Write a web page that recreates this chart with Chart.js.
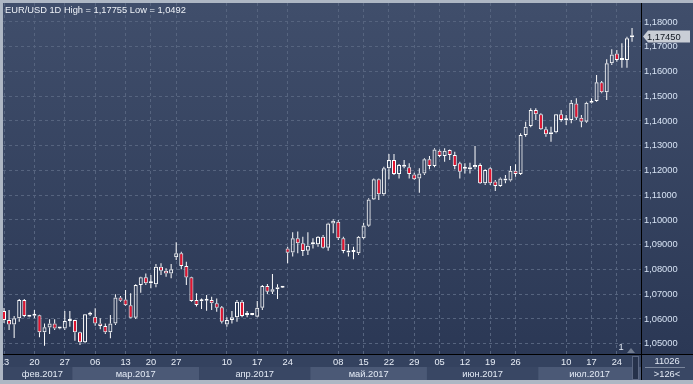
<!DOCTYPE html>
<html><head><meta charset="utf-8">
<script src="https://cdn.jsdelivr.net/npm/chart.js@4.4.0/dist/chart.umd.min.js"></script>
<style>html,body{margin:0;padding:0;background:#aeb7c4;overflow:hidden}#wrap{width:693px;height:384px}</style>
</head><body><div id="wrap"><canvas id="c" width="693" height="384"></canvas></div>
<script>
// ---- DATA (EUR/USD daily candles) ----
const titleText = 'EUR/USD 1D High = 1,17755 Low = 1,0492';
const opens = [1.0632,1.0596,1.0578,1.0603,1.0677,1.0609,1.0613,1.0615,1.0546,1.0565,1.0582,1.0561,1.0561,1.0592,1.0596,1.0546,1.0506,1.0617,1.0609,1.0582,1.0572,1.0546,1.0582,1.0687,1.0679,1.0655,1.0605,1.0737,1.0768,1.0744,1.0740,1.0811,1.0795,1.0784,1.0849,1.0865,1.0814,1.0768,1.0677,1.0672,1.0674,1.0677,1.0663,1.0647,1.0578,1.0596,1.0607,1.0670,1.0616,1.0616,1.0609,1.0645,1.0733,1.0710,1.0720,1.0726,1.0885,1.0869,1.0926,1.0906,1.0876,1.0902,1.0902,1.0932,1.0888,1.0986,1.0993,1.0926,1.0876,1.0871,1.0865,1.0926,1.0977,1.1083,1.1164,1.1104,1.1209,1.1242,1.1186,1.1222,1.1213,1.1184,1.1168,1.1188,1.1245,1.1218,1.1280,1.1258,1.1283,1.1262,1.1229,1.1207,1.1205,1.1213,1.1222,1.1148,1.1209,1.1155,1.1137,1.1168,1.1159,1.1199,1.1186,1.1343,1.1380,1.1444,1.1427,1.1366,1.1346,1.1354,1.1427,1.1403,1.1404,1.1471,1.1413,1.1397,1.1474,1.1481,1.1556,1.1516,1.1633,1.1673,1.1646,1.1646,1.1738];
const highs = [1.0644,1.0636,1.0612,1.0681,1.0681,1.0616,1.0636,1.0617,1.0582,1.0599,1.0599,1.0564,1.0632,1.0632,1.0597,1.0548,1.0620,1.0629,1.0643,1.0603,1.0582,1.0616,1.0700,1.0693,1.0717,1.0704,1.0740,1.0771,1.0784,1.0778,1.0822,1.0825,1.0805,1.0822,1.0910,1.0872,1.0831,1.0771,1.0704,1.0683,1.0697,1.0690,1.0683,1.0652,1.0607,1.0632,1.0677,1.0677,1.0632,1.0618,1.0673,1.0737,1.0741,1.0782,1.0740,1.0728,1.0892,1.0950,1.0953,1.0932,1.0950,1.0926,1.0935,1.0939,1.0989,1.1003,1.1000,1.0932,1.0903,1.0892,1.0935,1.0989,1.1088,1.1168,1.1168,1.1215,1.1266,1.1266,1.1226,1.1242,1.1229,1.1191,1.1209,1.1249,1.1258,1.1290,1.1285,1.1290,1.1285,1.1276,1.1235,1.1229,1.1231,1.1299,1.1229,1.1205,1.1213,1.1161,1.1172,1.1182,1.1218,1.1225,1.1350,1.1397,1.1451,1.1451,1.1431,1.1377,1.1377,1.1428,1.1444,1.1424,1.1485,1.1492,1.1424,1.1478,1.1492,1.1586,1.1561,1.1649,1.1690,1.1687,1.1714,1.1740,1.17755];
const lows = [1.0584,1.0555,1.0523,1.0589,1.0607,1.0607,1.0603,1.0526,1.0492,1.0539,1.0555,1.0558,1.0555,1.0569,1.0512,1.0495,1.0502,1.0612,1.0573,1.0558,1.0539,1.0522,1.0576,1.0670,1.0652,1.0603,1.0600,1.0706,1.0737,1.0724,1.0728,1.0778,1.0771,1.0764,1.0838,1.0801,1.0737,1.0670,1.0650,1.0640,1.0633,1.0636,1.0629,1.0582,1.0569,1.0582,1.0589,1.0607,1.0607,1.0615,1.0607,1.0636,1.0701,1.0701,1.0681,1.0725,1.0825,1.0852,1.0865,1.0854,1.0858,1.0885,1.0892,1.0885,1.0876,1.0946,1.0919,1.0865,1.0852,1.0841,1.0858,1.0922,1.0973,1.1081,1.1081,1.1098,1.1164,1.1182,1.1168,1.1209,1.1168,1.1161,1.1110,1.1182,1.1205,1.1213,1.1253,1.1235,1.1242,1.1205,1.1168,1.1188,1.1188,1.1205,1.1145,1.1141,1.1141,1.1117,1.1134,1.1148,1.1155,1.1175,1.1182,1.1336,1.1375,1.1404,1.1363,1.1336,1.1316,1.1350,1.1397,1.1384,1.1391,1.1404,1.1375,1.1393,1.1471,1.1478,1.1512,1.1485,1.1626,1.1639,1.1615,1.1615,1.1720];
const closes = [1.0596,1.0578,1.0603,1.0677,1.0612,1.0613,1.0619,1.0546,1.0566,1.0582,1.0561,1.0562,1.0592,1.0596,1.0546,1.0506,1.0619,1.0623,1.0582,1.0572,1.0546,1.0582,1.0687,1.0674,1.0655,1.0605,1.0737,1.0768,1.0744,1.0745,1.0811,1.0795,1.0784,1.0801,1.0865,1.0814,1.0768,1.0673,1.0656,1.0673,1.0675,1.0663,1.0645,1.0589,1.0596,1.0607,1.0670,1.0612,1.0617,1.0617,1.0645,1.0733,1.0710,1.0720,1.0728,1.0727,1.0868,1.0926,1.0906,1.0875,1.0896,1.0903,1.0932,1.0888,1.0986,1.0997,1.0926,1.0875,1.0869,1.0872,1.0932,1.0978,1.1083,1.1164,1.1104,1.1209,1.1242,1.1186,1.1222,1.1215,1.1186,1.1164,1.1188,1.1245,1.1218,1.1285,1.1258,1.1280,1.1262,1.1218,1.1195,1.1208,1.1213,1.1222,1.1148,1.1202,1.1148,1.1137,1.1168,1.1159,1.1199,1.1186,1.1343,1.1377,1.1444,1.1427,1.1366,1.1346,1.1354,1.1427,1.1404,1.1404,1.1474,1.1413,1.1397,1.1474,1.1481,1.1556,1.1516,1.1633,1.1669,1.1646,1.1650,1.1734,1.1745];
const dayTickIndex  = [0,6,12,18,24,29,34,44,50,56,66,71,76,81,86,91,96,101,111,116,121];
const dayTickLabels = ['13','20','27','06','13','20','27','10','17','24','08','15','22','29','05','12','19','26','10','17','24'];
const monthStartIndex = [0,14,39,61,84,106];
const monthLabels = ['фев.2017','мар.2017','апр.2017','май.2017','июн.2017','июл.2017'];
const priceTicks = [1.05,1.06,1.07,1.08,1.09,1.10,1.11,1.12,1.13,1.14,1.15,1.16,1.17,1.18];
const cornerTop = '11026';
const cornerBottom = '>126<';

// ---- CHART ----
const FONT = "'Liberation Sans', Arial, sans-serif";
Chart.defaults.font.family = FONT;
Chart.defaults.font.size = 9.3;
const RED = '#e5132f';
const idx = closes.map((_, i) => i);
const fmt = v => v.toFixed(5).replace('.', ',');

const frame = {
  id: 'frame',
  beforeDraw(chart) {
    const {ctx, chartArea: ca, scales: {x}} = chart;
    const W = chart.width;
    ctx.save();
    ctx.fillStyle = '#aeb7c4';
    ctx.fillRect(0, 0, W, chart.height);
    const g = ctx.createLinearGradient(0, ca.top, 0, ca.bottom);
    g.addColorStop(0, '#404e6b');
    g.addColorStop(1, '#2b3855');
    ctx.fillStyle = g;
    ctx.fillRect(ca.left, ca.top, W - ca.left, ca.bottom - ca.top);
    const r1 = ca.bottom + 1, r2 = r1 + 12, r3 = r2 + 13;
    ctx.fillStyle = '#34425f';
    ctx.fillRect(ca.left, r1, W - ca.left, r2 - r1);
    ctx.fillStyle = '#394764';
    ctx.fillRect(ca.left, r2, W - ca.left, r3 - r2);
    ctx.fillRect(ca.right, r1, W - ca.right, r3 - r1);
    const edges = monthStartIndex.map((s, k) => k === 0 ? ca.left : x.getPixelForValue(s - 0.5));
    edges.push(ca.right);
    ctx.fillStyle = '#4b5976';
    for (let k = 0; k < monthLabels.length; k++) {
      if (k % 2 === 1) ctx.fillRect(edges[k], r2, edges[k + 1] - edges[k], r3 - r2);
    }
    ctx.restore();
  },
  afterDraw(chart) {
    const {ctx, chartArea: ca, scales: {x, y}} = chart;
    const W = chart.width;
    const r1 = ca.bottom + 1, r2 = r1 + 12, r3 = r2 + 13;
    ctx.save();
    ctx.font = '9.3px ' + FONT;
    const edges = monthStartIndex.map((s, k) => k === 0 ? ca.left : x.getPixelForValue(s - 0.5));
    edges.push(ca.right);
    ctx.fillStyle = '#e3eaf5';
    ctx.textAlign = 'center';
    ctx.textBaseline = 'middle';
    for (let k = 0; k < monthLabels.length; k++) {
      const c = k === 0 ? edges[1] - 30 : (edges[k] + edges[k + 1]) / 2;
      ctx.fillText(monthLabels[k], c, (r2 + r3) / 2 + 0.5);
    }
    // scroll thumb
    ctx.fillStyle = '#26324b';
    ctx.fillRect(ca.right - 9, r1 + 1, 7, r3 - r1 - 1);
    ctx.strokeStyle = '#5b6782';
    ctx.lineWidth = 1;
    ctx.strokeRect(ca.right - 8.5, r1 + 1.5, 6, r3 - r1 - 2);
    // separator lines
    ctx.fillStyle = '#000';
    ctx.fillRect(ca.right, ca.top, 1, r3 - ca.top);
    ctx.fillRect(ca.left, ca.bottom, W - ca.left, 1);
    // title
    ctx.textAlign = 'left';
    ctx.fillStyle = '#eef2f8';
    ctx.fillText(titleText, ca.left + 2, ca.top + 7.5);
    // current price label
    const last = closes[closes.length - 1];
    const py = Math.round(y.getPixelForValue(last)) + 0.5;
    ctx.fillStyle = '#c9ced6';
    ctx.beginPath();
    ctx.moveTo(ca.right + 2, py);
    ctx.lineTo(ca.right + 7, py - 6);
    ctx.lineTo(W - 3, py - 6);
    ctx.lineTo(W - 3, py + 6);
    ctx.lineTo(ca.right + 7, py + 6);
    ctx.closePath();
    ctx.fill();
    ctx.fillStyle = '#111822';
    ctx.fillText(fmt(last), ca.right + 6, py + 0.5);
    // bar counter "1" and small triangle
    ctx.fillStyle = '#e3eaf5';
    ctx.textAlign = 'center';
    ctx.fillText('1', ca.right - 20, ca.bottom - 7);
    ctx.fillStyle = '#707b8f';
    ctx.beginPath();
    ctx.moveTo(ca.right - 14, ca.bottom - 1);
    ctx.lineTo(ca.right - 10, ca.bottom - 6);
    ctx.lineTo(ca.right - 6, ca.bottom - 1);
    ctx.closePath();
    ctx.fill();
    // corner
    const cx = (ca.right + W) / 2;
    ctx.fillStyle = '#e3eaf5';
    ctx.fillText(cornerTop, cx, r1 + 6.5);
    ctx.fillText(cornerBottom, cx, r2 + 7.5);
    ctx.fillStyle = '#7a869c';
    ctx.fillRect(ca.right + 4, r2, 40, 1);
    // outer frame overdraw
    ctx.fillStyle = '#aeb7c4';
    ctx.fillRect(0, 0, ca.left, chart.height);
    ctx.fillRect(0, r3, W, chart.height - r3);
    ctx.fillRect(0, 0, W, ca.top);
    ctx.restore();
  }
};

new Chart(document.getElementById('c'), {
  type: 'bar',
  data: {
    datasets: [
      { label: 'upper', data: idx.map(i => ({x: i, y: [Math.max(opens[i], closes[i]), highs[i]]})),
        backgroundColor: '#ffffff', barThickness: 1, order: 3 },
      { label: 'lower', data: idx.map(i => ({x: i, y: [lows[i], Math.min(opens[i], closes[i])]})),
        backgroundColor: '#ffffff', barThickness: 1, order: 2 },
      { label: 'body', data: idx.map(i => ({x: i, y: [opens[i], closes[i]]})),
        backgroundColor: idx.map(i => closes[i] < opens[i] ? RED : 'rgba(0,0,0,0)'),
        borderColor: '#ffffff', borderWidth: 1, borderSkipped: false,
        barThickness: 4, minBarLength: 2, order: 1 }
    ]
  },
  options: {
    responsive: false,
    animation: false,
    devicePixelRatio: 1,
    datasets: { bar: { grouped: false, inflateAmount: 0 } },
    layout: { padding: { left: 3, top: 3, right: 1, bottom: 4 } },
    plugins: { legend: { display: false }, tooltip: { enabled: false }, title: { display: false } },
    scales: {
      x: {
        type: 'linear', min: -0.2, max: 125.77, offset: false,
        afterBuildTicks: s => { s.ticks = dayTickIndex.map(v => ({ value: v })); },
        afterFit: s => { s.height = 26; s.paddingLeft = 0; s.paddingRight = 0; },
        ticks: { autoSkip: false, maxRotation: 0, padding: 3, color: '#e8eef7',
          callback: v => dayTickLabels[dayTickIndex.indexOf(v)] },
        grid: { color: '#56647f', lineWidth: 1, drawTicks: false, offset: false },
        border: { display: false, dash: [3, 3] }
      },
      y: {
        position: 'right', min: 1.04584, max: 1.18766,
        afterBuildTicks: s => { s.ticks = priceTicks.map(v => ({ value: v })); },
        afterFit: s => { s.width = 51; s.paddingTop = 0; s.paddingBottom = 0; },
        ticks: { padding: 3, color: '#d6e2f3', callback: v => fmt(v) },
        grid: { color: '#56647f', lineWidth: 1, drawTicks: false },
        border: { display: false, dash: [3, 3] }
      }
    }
  },
  plugins: [frame]
});
</script>
</body></html>
